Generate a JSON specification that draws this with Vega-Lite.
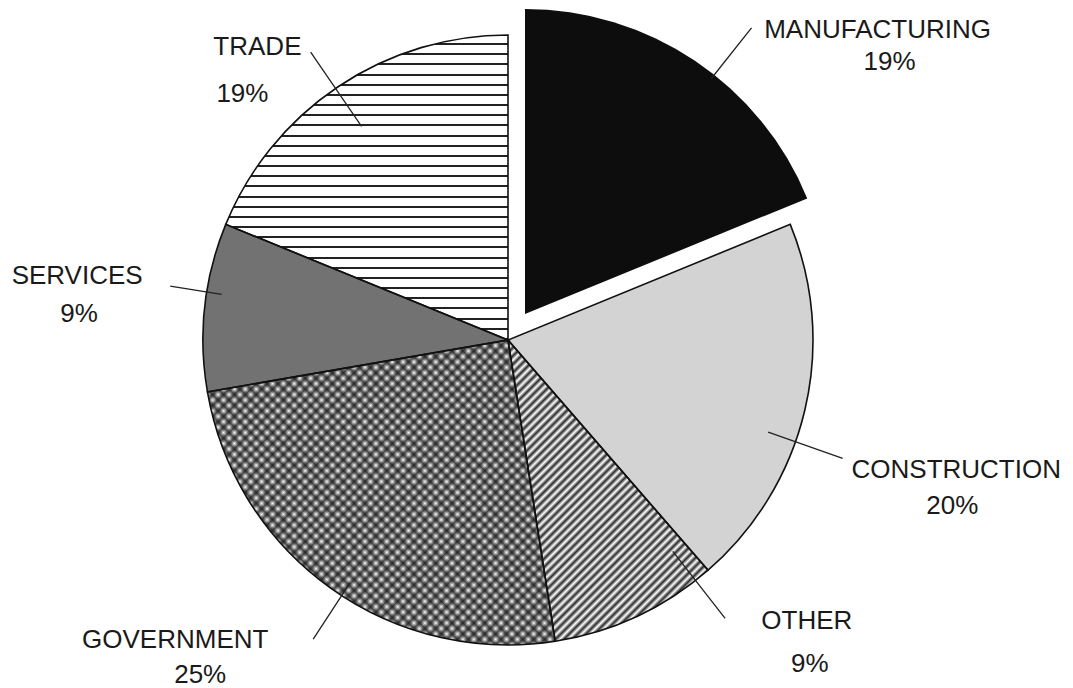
{
"$schema": "https://vega.github.io/schema/vega-lite/v6.json",
"width": 1016, "height": 680,
"autosize": {"type": "none"},
"padding": {"left": 0, "top": 0, "right": 57, "bottom": 8},
"background": "white",
"view": {"stroke": null},
"data": {"values": [
{"sector": "MANUFACTURING", "share": 0.19, "seq": 1},
{"sector": "CONSTRUCTION", "share": 0.20, "seq": 2},
{"sector": "OTHER", "share": 0.09, "seq": 3},
{"sector": "GOVERNMENT", "share": 0.25, "seq": 4},
{"sector": "SERVICES", "share": 0.09, "seq": 5},
{"sector": "TRADE", "share": 0.19, "seq": 6}
]},
"encoding": {
"theta": {"field": "share", "type": "quantitative", "stack": true},
"order": {"field": "seq", "type": "quantitative"}
},
"layer": [
{"mark": {"type": "arc", "radius": 305, "strokeWidth": 0},
 "encoding": {"fill": {"field": "sector", "type": "nominal", "legend": null,
  "scale": {"domain": ["MANUFACTURING","CONSTRUCTION","OTHER","GOVERNMENT","SERVICES","TRADE"],
            "range": ["transparent","#d3d3d3","#ffffff","#ffffff","#727272","#ffffff"]}}}},
{"mark": {"type": "arc", "radius": 305, "strokeWidth": 0},
 "encoding": {"fill": {"condition": {"test": "datum.sector === 'TRADE'", "value": {"gradient": "linear", "x1": 0, "y1": 0, "x2": 0, "y2": 1, "stops": [
{"offset":0,"color":"#fff"},{"offset":0.0267,"color":"#fff"},{"offset":0.0267,"color":"#222"},{"offset":0.0333,"color":"#222"},
{"offset":0.0333,"color":"#fff"},{"offset":0.06,"color":"#fff"},{"offset":0.06,"color":"#222"},{"offset":0.0667,"color":"#222"},
{"offset":0.0667,"color":"#fff"},{"offset":0.0933,"color":"#fff"},{"offset":0.0933,"color":"#222"},{"offset":0.1,"color":"#222"},
{"offset":0.1,"color":"#fff"},{"offset":0.1267,"color":"#fff"},{"offset":0.1267,"color":"#222"},{"offset":0.1333,"color":"#222"},
{"offset":0.1333,"color":"#fff"},{"offset":0.16,"color":"#fff"},{"offset":0.16,"color":"#222"},{"offset":0.1667,"color":"#222"},
{"offset":0.1667,"color":"#fff"},{"offset":0.1933,"color":"#fff"},{"offset":0.1933,"color":"#222"},{"offset":0.2,"color":"#222"},
{"offset":0.2,"color":"#fff"},{"offset":0.2267,"color":"#fff"},{"offset":0.2267,"color":"#222"},{"offset":0.2333,"color":"#222"},
{"offset":0.2333,"color":"#fff"},{"offset":0.26,"color":"#fff"},{"offset":0.26,"color":"#222"},{"offset":0.2667,"color":"#222"},
{"offset":0.2667,"color":"#fff"},{"offset":0.2933,"color":"#fff"},{"offset":0.2933,"color":"#222"},{"offset":0.3,"color":"#222"},
{"offset":0.3,"color":"#fff"},{"offset":0.3267,"color":"#fff"},{"offset":0.3267,"color":"#222"},{"offset":0.3333,"color":"#222"},
{"offset":0.3333,"color":"#fff"},{"offset":0.36,"color":"#fff"},{"offset":0.36,"color":"#222"},{"offset":0.3667,"color":"#222"},
{"offset":0.3667,"color":"#fff"},{"offset":0.3933,"color":"#fff"},{"offset":0.3933,"color":"#222"},{"offset":0.4,"color":"#222"},
{"offset":0.4,"color":"#fff"},{"offset":0.4267,"color":"#fff"},{"offset":0.4267,"color":"#222"},{"offset":0.4333,"color":"#222"},
{"offset":0.4333,"color":"#fff"},{"offset":0.46,"color":"#fff"},{"offset":0.46,"color":"#222"},{"offset":0.4667,"color":"#222"},
{"offset":0.4667,"color":"#fff"},{"offset":0.4933,"color":"#fff"},{"offset":0.4933,"color":"#222"},{"offset":0.5,"color":"#222"},
{"offset":0.5,"color":"#fff"},{"offset":0.5267,"color":"#fff"},{"offset":0.5267,"color":"#222"},{"offset":0.5333,"color":"#222"},
{"offset":0.5333,"color":"#fff"},{"offset":0.56,"color":"#fff"},{"offset":0.56,"color":"#222"},{"offset":0.5667,"color":"#222"},
{"offset":0.5667,"color":"#fff"},{"offset":0.5933,"color":"#fff"},{"offset":0.5933,"color":"#222"},{"offset":0.6,"color":"#222"},
{"offset":0.6,"color":"#fff"},{"offset":0.6267,"color":"#fff"},{"offset":0.6267,"color":"#222"},{"offset":0.6333,"color":"#222"},
{"offset":0.6333,"color":"#fff"},{"offset":0.66,"color":"#fff"},{"offset":0.66,"color":"#222"},{"offset":0.6667,"color":"#222"},
{"offset":0.6667,"color":"#fff"},{"offset":0.6933,"color":"#fff"},{"offset":0.6933,"color":"#222"},{"offset":0.7,"color":"#222"},
{"offset":0.7,"color":"#fff"},{"offset":0.7267,"color":"#fff"},{"offset":0.7267,"color":"#222"},{"offset":0.7333,"color":"#222"},
{"offset":0.7333,"color":"#fff"},{"offset":0.76,"color":"#fff"},{"offset":0.76,"color":"#222"},{"offset":0.7667,"color":"#222"},
{"offset":0.7667,"color":"#fff"},{"offset":0.7933,"color":"#fff"},{"offset":0.7933,"color":"#222"},{"offset":0.8,"color":"#222"},
{"offset":0.8,"color":"#fff"},{"offset":0.8267,"color":"#fff"},{"offset":0.8267,"color":"#222"},{"offset":0.8333,"color":"#222"},
{"offset":0.8333,"color":"#fff"},{"offset":0.86,"color":"#fff"},{"offset":0.86,"color":"#222"},{"offset":0.8667,"color":"#222"},
{"offset":0.8667,"color":"#fff"},{"offset":0.8933,"color":"#fff"},{"offset":0.8933,"color":"#222"},{"offset":0.9,"color":"#222"},
{"offset":0.9,"color":"#fff"},{"offset":0.9267,"color":"#fff"},{"offset":0.9267,"color":"#222"},{"offset":0.9333,"color":"#222"},
{"offset":0.9333,"color":"#fff"},{"offset":0.96,"color":"#fff"},{"offset":0.96,"color":"#222"},{"offset":0.9667,"color":"#222"},
{"offset":0.9667,"color":"#fff"},{"offset":0.9933,"color":"#fff"},{"offset":0.9933,"color":"#222"},{"offset":1,"color":"#222"}
]}}, "value": "transparent"}}},
{"mark": {"type": "arc", "radius": 305, "strokeWidth": 0},
 "encoding": {"fill": {"condition": {"test": "datum.sector === 'OTHER'", "value": {"gradient": "linear", "x1": 0, "y1": 0, "x2": 0.7666, "y2": 1.1549, "stops": [
{"offset":0,"color":"#fff"},{"offset":0.0083,"color":"#2b2b2b"},{"offset":0.0167,"color":"#fff"},{"offset":0.025,"color":"#2b2b2b"},{"offset":0.0333,"color":"#fff"},{"offset":0.0417,"color":"#2b2b2b"},{"offset":0.05,"color":"#fff"},{"offset":0.0583,"color":"#2b2b2b"},{"offset":0.0667,"color":"#fff"},{"offset":0.075,"color":"#2b2b2b"},
{"offset":0.0833,"color":"#fff"},{"offset":0.0917,"color":"#2b2b2b"},{"offset":0.1,"color":"#fff"},{"offset":0.1083,"color":"#2b2b2b"},{"offset":0.1167,"color":"#fff"},{"offset":0.125,"color":"#2b2b2b"},{"offset":0.1333,"color":"#fff"},{"offset":0.1417,"color":"#2b2b2b"},{"offset":0.15,"color":"#fff"},{"offset":0.1583,"color":"#2b2b2b"},
{"offset":0.1667,"color":"#fff"},{"offset":0.175,"color":"#2b2b2b"},{"offset":0.1833,"color":"#fff"},{"offset":0.1917,"color":"#2b2b2b"},{"offset":0.2,"color":"#fff"},{"offset":0.2083,"color":"#2b2b2b"},{"offset":0.2167,"color":"#fff"},{"offset":0.225,"color":"#2b2b2b"},{"offset":0.2333,"color":"#fff"},{"offset":0.2417,"color":"#2b2b2b"},
{"offset":0.25,"color":"#fff"},{"offset":0.2583,"color":"#2b2b2b"},{"offset":0.2667,"color":"#fff"},{"offset":0.275,"color":"#2b2b2b"},{"offset":0.2833,"color":"#fff"},{"offset":0.2917,"color":"#2b2b2b"},{"offset":0.3,"color":"#fff"},{"offset":0.3083,"color":"#2b2b2b"},{"offset":0.3167,"color":"#fff"},{"offset":0.325,"color":"#2b2b2b"},
{"offset":0.3333,"color":"#fff"},{"offset":0.3417,"color":"#2b2b2b"},{"offset":0.35,"color":"#fff"},{"offset":0.3583,"color":"#2b2b2b"},{"offset":0.3667,"color":"#fff"},{"offset":0.375,"color":"#2b2b2b"},{"offset":0.3833,"color":"#fff"},{"offset":0.3917,"color":"#2b2b2b"},{"offset":0.4,"color":"#fff"},{"offset":0.4083,"color":"#2b2b2b"},
{"offset":0.4167,"color":"#fff"},{"offset":0.425,"color":"#2b2b2b"},{"offset":0.4333,"color":"#fff"},{"offset":0.4417,"color":"#2b2b2b"},{"offset":0.45,"color":"#fff"},{"offset":0.4583,"color":"#2b2b2b"},{"offset":0.4667,"color":"#fff"},{"offset":0.475,"color":"#2b2b2b"},{"offset":0.4833,"color":"#fff"},{"offset":0.4917,"color":"#2b2b2b"},
{"offset":0.5,"color":"#fff"},{"offset":0.5083,"color":"#2b2b2b"},{"offset":0.5167,"color":"#fff"},{"offset":0.525,"color":"#2b2b2b"},{"offset":0.5333,"color":"#fff"},{"offset":0.5417,"color":"#2b2b2b"},{"offset":0.55,"color":"#fff"},{"offset":0.5583,"color":"#2b2b2b"},{"offset":0.5667,"color":"#fff"},{"offset":0.575,"color":"#2b2b2b"},
{"offset":0.5833,"color":"#fff"},{"offset":0.5917,"color":"#2b2b2b"},{"offset":0.6,"color":"#fff"},{"offset":0.6083,"color":"#2b2b2b"},{"offset":0.6167,"color":"#fff"},{"offset":0.625,"color":"#2b2b2b"},{"offset":0.6333,"color":"#fff"},{"offset":0.6417,"color":"#2b2b2b"},{"offset":0.65,"color":"#fff"},{"offset":0.6583,"color":"#2b2b2b"},
{"offset":0.6667,"color":"#fff"},{"offset":0.675,"color":"#2b2b2b"},{"offset":0.6833,"color":"#fff"},{"offset":0.6917,"color":"#2b2b2b"},{"offset":0.7,"color":"#fff"},{"offset":0.7083,"color":"#2b2b2b"},{"offset":0.7167,"color":"#fff"},{"offset":0.725,"color":"#2b2b2b"},{"offset":0.7333,"color":"#fff"},{"offset":0.7417,"color":"#2b2b2b"},
{"offset":0.75,"color":"#fff"},{"offset":0.7583,"color":"#2b2b2b"},{"offset":0.7667,"color":"#fff"},{"offset":0.775,"color":"#2b2b2b"},{"offset":0.7833,"color":"#fff"},{"offset":0.7917,"color":"#2b2b2b"},{"offset":0.8,"color":"#fff"},{"offset":0.8083,"color":"#2b2b2b"},{"offset":0.8167,"color":"#fff"},{"offset":0.825,"color":"#2b2b2b"},
{"offset":0.8333,"color":"#fff"},{"offset":0.8417,"color":"#2b2b2b"},{"offset":0.85,"color":"#fff"},{"offset":0.8583,"color":"#2b2b2b"},{"offset":0.8667,"color":"#fff"},{"offset":0.875,"color":"#2b2b2b"},{"offset":0.8833,"color":"#fff"},{"offset":0.8917,"color":"#2b2b2b"},{"offset":0.9,"color":"#fff"},{"offset":0.9083,"color":"#2b2b2b"},
{"offset":0.9167,"color":"#fff"},{"offset":0.925,"color":"#2b2b2b"},{"offset":0.9333,"color":"#fff"},{"offset":0.9417,"color":"#2b2b2b"},{"offset":0.95,"color":"#fff"},{"offset":0.9583,"color":"#2b2b2b"},{"offset":0.9667,"color":"#fff"},{"offset":0.975,"color":"#2b2b2b"},{"offset":0.9833,"color":"#fff"},{"offset":0.9917,"color":"#2b2b2b"},
{"offset":1,"color":"#fff"}
]}}, "value": "transparent"}}},
{"mark": {"type": "arc", "radius": 305, "strokeWidth": 0},
 "encoding": {"fill": {"condition": {"test": "datum.sector === 'GOVERNMENT'", "value": {"gradient": "linear", "x1": 0, "y1": 0, "x2": 1.0609, "y2": 0.9306, "stops": [
{"offset":0,"color":"rgba(20,20,20,0)"},{"offset":0.0083,"color":"rgba(20,20,20,0.75)"},{"offset":0.0167,"color":"rgba(20,20,20,0)"},{"offset":0.025,"color":"rgba(20,20,20,0.75)"},{"offset":0.0333,"color":"rgba(20,20,20,0)"},{"offset":0.0417,"color":"rgba(20,20,20,0.75)"},{"offset":0.05,"color":"rgba(20,20,20,0)"},{"offset":0.0583,"color":"rgba(20,20,20,0.75)"},{"offset":0.0667,"color":"rgba(20,20,20,0)"},{"offset":0.075,"color":"rgba(20,20,20,0.75)"},
{"offset":0.0833,"color":"rgba(20,20,20,0)"},{"offset":0.0917,"color":"rgba(20,20,20,0.75)"},{"offset":0.1,"color":"rgba(20,20,20,0)"},{"offset":0.1083,"color":"rgba(20,20,20,0.75)"},{"offset":0.1167,"color":"rgba(20,20,20,0)"},{"offset":0.125,"color":"rgba(20,20,20,0.75)"},{"offset":0.1333,"color":"rgba(20,20,20,0)"},{"offset":0.1417,"color":"rgba(20,20,20,0.75)"},{"offset":0.15,"color":"rgba(20,20,20,0)"},{"offset":0.1583,"color":"rgba(20,20,20,0.75)"},
{"offset":0.1667,"color":"rgba(20,20,20,0)"},{"offset":0.175,"color":"rgba(20,20,20,0.75)"},{"offset":0.1833,"color":"rgba(20,20,20,0)"},{"offset":0.1917,"color":"rgba(20,20,20,0.75)"},{"offset":0.2,"color":"rgba(20,20,20,0)"},{"offset":0.2083,"color":"rgba(20,20,20,0.75)"},{"offset":0.2167,"color":"rgba(20,20,20,0)"},{"offset":0.225,"color":"rgba(20,20,20,0.75)"},{"offset":0.2333,"color":"rgba(20,20,20,0)"},{"offset":0.2417,"color":"rgba(20,20,20,0.75)"},
{"offset":0.25,"color":"rgba(20,20,20,0)"},{"offset":0.2583,"color":"rgba(20,20,20,0.75)"},{"offset":0.2667,"color":"rgba(20,20,20,0)"},{"offset":0.275,"color":"rgba(20,20,20,0.75)"},{"offset":0.2833,"color":"rgba(20,20,20,0)"},{"offset":0.2917,"color":"rgba(20,20,20,0.75)"},{"offset":0.3,"color":"rgba(20,20,20,0)"},{"offset":0.3083,"color":"rgba(20,20,20,0.75)"},{"offset":0.3167,"color":"rgba(20,20,20,0)"},{"offset":0.325,"color":"rgba(20,20,20,0.75)"},
{"offset":0.3333,"color":"rgba(20,20,20,0)"},{"offset":0.3417,"color":"rgba(20,20,20,0.75)"},{"offset":0.35,"color":"rgba(20,20,20,0)"},{"offset":0.3583,"color":"rgba(20,20,20,0.75)"},{"offset":0.3667,"color":"rgba(20,20,20,0)"},{"offset":0.375,"color":"rgba(20,20,20,0.75)"},{"offset":0.3833,"color":"rgba(20,20,20,0)"},{"offset":0.3917,"color":"rgba(20,20,20,0.75)"},{"offset":0.4,"color":"rgba(20,20,20,0)"},{"offset":0.4083,"color":"rgba(20,20,20,0.75)"},
{"offset":0.4167,"color":"rgba(20,20,20,0)"},{"offset":0.425,"color":"rgba(20,20,20,0.75)"},{"offset":0.4333,"color":"rgba(20,20,20,0)"},{"offset":0.4417,"color":"rgba(20,20,20,0.75)"},{"offset":0.45,"color":"rgba(20,20,20,0)"},{"offset":0.4583,"color":"rgba(20,20,20,0.75)"},{"offset":0.4667,"color":"rgba(20,20,20,0)"},{"offset":0.475,"color":"rgba(20,20,20,0.75)"},{"offset":0.4833,"color":"rgba(20,20,20,0)"},{"offset":0.4917,"color":"rgba(20,20,20,0.75)"},
{"offset":0.5,"color":"rgba(20,20,20,0)"},{"offset":0.5083,"color":"rgba(20,20,20,0.75)"},{"offset":0.5167,"color":"rgba(20,20,20,0)"},{"offset":0.525,"color":"rgba(20,20,20,0.75)"},{"offset":0.5333,"color":"rgba(20,20,20,0)"},{"offset":0.5417,"color":"rgba(20,20,20,0.75)"},{"offset":0.55,"color":"rgba(20,20,20,0)"},{"offset":0.5583,"color":"rgba(20,20,20,0.75)"},{"offset":0.5667,"color":"rgba(20,20,20,0)"},{"offset":0.575,"color":"rgba(20,20,20,0.75)"},
{"offset":0.5833,"color":"rgba(20,20,20,0)"},{"offset":0.5917,"color":"rgba(20,20,20,0.75)"},{"offset":0.6,"color":"rgba(20,20,20,0)"},{"offset":0.6083,"color":"rgba(20,20,20,0.75)"},{"offset":0.6167,"color":"rgba(20,20,20,0)"},{"offset":0.625,"color":"rgba(20,20,20,0.75)"},{"offset":0.6333,"color":"rgba(20,20,20,0)"},{"offset":0.6417,"color":"rgba(20,20,20,0.75)"},{"offset":0.65,"color":"rgba(20,20,20,0)"},{"offset":0.6583,"color":"rgba(20,20,20,0.75)"},
{"offset":0.6667,"color":"rgba(20,20,20,0)"},{"offset":0.675,"color":"rgba(20,20,20,0.75)"},{"offset":0.6833,"color":"rgba(20,20,20,0)"},{"offset":0.6917,"color":"rgba(20,20,20,0.75)"},{"offset":0.7,"color":"rgba(20,20,20,0)"},{"offset":0.7083,"color":"rgba(20,20,20,0.75)"},{"offset":0.7167,"color":"rgba(20,20,20,0)"},{"offset":0.725,"color":"rgba(20,20,20,0.75)"},{"offset":0.7333,"color":"rgba(20,20,20,0)"},{"offset":0.7417,"color":"rgba(20,20,20,0.75)"},
{"offset":0.75,"color":"rgba(20,20,20,0)"},{"offset":0.7583,"color":"rgba(20,20,20,0.75)"},{"offset":0.7667,"color":"rgba(20,20,20,0)"},{"offset":0.775,"color":"rgba(20,20,20,0.75)"},{"offset":0.7833,"color":"rgba(20,20,20,0)"},{"offset":0.7917,"color":"rgba(20,20,20,0.75)"},{"offset":0.8,"color":"rgba(20,20,20,0)"},{"offset":0.8083,"color":"rgba(20,20,20,0.75)"},{"offset":0.8167,"color":"rgba(20,20,20,0)"},{"offset":0.825,"color":"rgba(20,20,20,0.75)"},
{"offset":0.8333,"color":"rgba(20,20,20,0)"},{"offset":0.8417,"color":"rgba(20,20,20,0.75)"},{"offset":0.85,"color":"rgba(20,20,20,0)"},{"offset":0.8583,"color":"rgba(20,20,20,0.75)"},{"offset":0.8667,"color":"rgba(20,20,20,0)"},{"offset":0.875,"color":"rgba(20,20,20,0.75)"},{"offset":0.8833,"color":"rgba(20,20,20,0)"},{"offset":0.8917,"color":"rgba(20,20,20,0.75)"},{"offset":0.9,"color":"rgba(20,20,20,0)"},{"offset":0.9083,"color":"rgba(20,20,20,0.75)"},
{"offset":0.9167,"color":"rgba(20,20,20,0)"},{"offset":0.925,"color":"rgba(20,20,20,0.75)"},{"offset":0.9333,"color":"rgba(20,20,20,0)"},{"offset":0.9417,"color":"rgba(20,20,20,0.75)"},{"offset":0.95,"color":"rgba(20,20,20,0)"},{"offset":0.9583,"color":"rgba(20,20,20,0.75)"},{"offset":0.9667,"color":"rgba(20,20,20,0)"},{"offset":0.975,"color":"rgba(20,20,20,0.75)"},{"offset":0.9833,"color":"rgba(20,20,20,0)"},{"offset":0.9917,"color":"rgba(20,20,20,0.75)"},
{"offset":1,"color":"rgba(20,20,20,0)"}
]}}, "value": "transparent"}}},
{"mark": {"type": "arc", "radius": 305, "strokeWidth": 0},
 "encoding": {"fill": {"condition": {"test": "datum.sector === 'GOVERNMENT'", "value": {"gradient": "linear", "x1": 0, "y1": 1, "x2": 1.0609, "y2": 0.0694, "stops": [
{"offset":0,"color":"rgba(20,20,20,0)"},{"offset":0.0083,"color":"rgba(20,20,20,0.75)"},{"offset":0.0167,"color":"rgba(20,20,20,0)"},{"offset":0.025,"color":"rgba(20,20,20,0.75)"},{"offset":0.0333,"color":"rgba(20,20,20,0)"},{"offset":0.0417,"color":"rgba(20,20,20,0.75)"},{"offset":0.05,"color":"rgba(20,20,20,0)"},{"offset":0.0583,"color":"rgba(20,20,20,0.75)"},{"offset":0.0667,"color":"rgba(20,20,20,0)"},{"offset":0.075,"color":"rgba(20,20,20,0.75)"},
{"offset":0.0833,"color":"rgba(20,20,20,0)"},{"offset":0.0917,"color":"rgba(20,20,20,0.75)"},{"offset":0.1,"color":"rgba(20,20,20,0)"},{"offset":0.1083,"color":"rgba(20,20,20,0.75)"},{"offset":0.1167,"color":"rgba(20,20,20,0)"},{"offset":0.125,"color":"rgba(20,20,20,0.75)"},{"offset":0.1333,"color":"rgba(20,20,20,0)"},{"offset":0.1417,"color":"rgba(20,20,20,0.75)"},{"offset":0.15,"color":"rgba(20,20,20,0)"},{"offset":0.1583,"color":"rgba(20,20,20,0.75)"},
{"offset":0.1667,"color":"rgba(20,20,20,0)"},{"offset":0.175,"color":"rgba(20,20,20,0.75)"},{"offset":0.1833,"color":"rgba(20,20,20,0)"},{"offset":0.1917,"color":"rgba(20,20,20,0.75)"},{"offset":0.2,"color":"rgba(20,20,20,0)"},{"offset":0.2083,"color":"rgba(20,20,20,0.75)"},{"offset":0.2167,"color":"rgba(20,20,20,0)"},{"offset":0.225,"color":"rgba(20,20,20,0.75)"},{"offset":0.2333,"color":"rgba(20,20,20,0)"},{"offset":0.2417,"color":"rgba(20,20,20,0.75)"},
{"offset":0.25,"color":"rgba(20,20,20,0)"},{"offset":0.2583,"color":"rgba(20,20,20,0.75)"},{"offset":0.2667,"color":"rgba(20,20,20,0)"},{"offset":0.275,"color":"rgba(20,20,20,0.75)"},{"offset":0.2833,"color":"rgba(20,20,20,0)"},{"offset":0.2917,"color":"rgba(20,20,20,0.75)"},{"offset":0.3,"color":"rgba(20,20,20,0)"},{"offset":0.3083,"color":"rgba(20,20,20,0.75)"},{"offset":0.3167,"color":"rgba(20,20,20,0)"},{"offset":0.325,"color":"rgba(20,20,20,0.75)"},
{"offset":0.3333,"color":"rgba(20,20,20,0)"},{"offset":0.3417,"color":"rgba(20,20,20,0.75)"},{"offset":0.35,"color":"rgba(20,20,20,0)"},{"offset":0.3583,"color":"rgba(20,20,20,0.75)"},{"offset":0.3667,"color":"rgba(20,20,20,0)"},{"offset":0.375,"color":"rgba(20,20,20,0.75)"},{"offset":0.3833,"color":"rgba(20,20,20,0)"},{"offset":0.3917,"color":"rgba(20,20,20,0.75)"},{"offset":0.4,"color":"rgba(20,20,20,0)"},{"offset":0.4083,"color":"rgba(20,20,20,0.75)"},
{"offset":0.4167,"color":"rgba(20,20,20,0)"},{"offset":0.425,"color":"rgba(20,20,20,0.75)"},{"offset":0.4333,"color":"rgba(20,20,20,0)"},{"offset":0.4417,"color":"rgba(20,20,20,0.75)"},{"offset":0.45,"color":"rgba(20,20,20,0)"},{"offset":0.4583,"color":"rgba(20,20,20,0.75)"},{"offset":0.4667,"color":"rgba(20,20,20,0)"},{"offset":0.475,"color":"rgba(20,20,20,0.75)"},{"offset":0.4833,"color":"rgba(20,20,20,0)"},{"offset":0.4917,"color":"rgba(20,20,20,0.75)"},
{"offset":0.5,"color":"rgba(20,20,20,0)"},{"offset":0.5083,"color":"rgba(20,20,20,0.75)"},{"offset":0.5167,"color":"rgba(20,20,20,0)"},{"offset":0.525,"color":"rgba(20,20,20,0.75)"},{"offset":0.5333,"color":"rgba(20,20,20,0)"},{"offset":0.5417,"color":"rgba(20,20,20,0.75)"},{"offset":0.55,"color":"rgba(20,20,20,0)"},{"offset":0.5583,"color":"rgba(20,20,20,0.75)"},{"offset":0.5667,"color":"rgba(20,20,20,0)"},{"offset":0.575,"color":"rgba(20,20,20,0.75)"},
{"offset":0.5833,"color":"rgba(20,20,20,0)"},{"offset":0.5917,"color":"rgba(20,20,20,0.75)"},{"offset":0.6,"color":"rgba(20,20,20,0)"},{"offset":0.6083,"color":"rgba(20,20,20,0.75)"},{"offset":0.6167,"color":"rgba(20,20,20,0)"},{"offset":0.625,"color":"rgba(20,20,20,0.75)"},{"offset":0.6333,"color":"rgba(20,20,20,0)"},{"offset":0.6417,"color":"rgba(20,20,20,0.75)"},{"offset":0.65,"color":"rgba(20,20,20,0)"},{"offset":0.6583,"color":"rgba(20,20,20,0.75)"},
{"offset":0.6667,"color":"rgba(20,20,20,0)"},{"offset":0.675,"color":"rgba(20,20,20,0.75)"},{"offset":0.6833,"color":"rgba(20,20,20,0)"},{"offset":0.6917,"color":"rgba(20,20,20,0.75)"},{"offset":0.7,"color":"rgba(20,20,20,0)"},{"offset":0.7083,"color":"rgba(20,20,20,0.75)"},{"offset":0.7167,"color":"rgba(20,20,20,0)"},{"offset":0.725,"color":"rgba(20,20,20,0.75)"},{"offset":0.7333,"color":"rgba(20,20,20,0)"},{"offset":0.7417,"color":"rgba(20,20,20,0.75)"},
{"offset":0.75,"color":"rgba(20,20,20,0)"},{"offset":0.7583,"color":"rgba(20,20,20,0.75)"},{"offset":0.7667,"color":"rgba(20,20,20,0)"},{"offset":0.775,"color":"rgba(20,20,20,0.75)"},{"offset":0.7833,"color":"rgba(20,20,20,0)"},{"offset":0.7917,"color":"rgba(20,20,20,0.75)"},{"offset":0.8,"color":"rgba(20,20,20,0)"},{"offset":0.8083,"color":"rgba(20,20,20,0.75)"},{"offset":0.8167,"color":"rgba(20,20,20,0)"},{"offset":0.825,"color":"rgba(20,20,20,0.75)"},
{"offset":0.8333,"color":"rgba(20,20,20,0)"},{"offset":0.8417,"color":"rgba(20,20,20,0.75)"},{"offset":0.85,"color":"rgba(20,20,20,0)"},{"offset":0.8583,"color":"rgba(20,20,20,0.75)"},{"offset":0.8667,"color":"rgba(20,20,20,0)"},{"offset":0.875,"color":"rgba(20,20,20,0.75)"},{"offset":0.8833,"color":"rgba(20,20,20,0)"},{"offset":0.8917,"color":"rgba(20,20,20,0.75)"},{"offset":0.9,"color":"rgba(20,20,20,0)"},{"offset":0.9083,"color":"rgba(20,20,20,0.75)"},
{"offset":0.9167,"color":"rgba(20,20,20,0)"},{"offset":0.925,"color":"rgba(20,20,20,0.75)"},{"offset":0.9333,"color":"rgba(20,20,20,0)"},{"offset":0.9417,"color":"rgba(20,20,20,0.75)"},{"offset":0.95,"color":"rgba(20,20,20,0)"},{"offset":0.9583,"color":"rgba(20,20,20,0.75)"},{"offset":0.9667,"color":"rgba(20,20,20,0)"},{"offset":0.975,"color":"rgba(20,20,20,0.75)"},{"offset":0.9833,"color":"rgba(20,20,20,0)"},{"offset":0.9917,"color":"rgba(20,20,20,0.75)"},
{"offset":1,"color":"rgba(20,20,20,0)"}
]}}, "value": "transparent"}}},
{"mark": {"type": "arc", "radius": 305, "fill": "transparent", "strokeWidth": 1.6, "strokeJoin": "miter"},
 "encoding": {"stroke": {"condition": {"test": "datum.sector === 'MANUFACTURING'", "value": "transparent"}, "value": "#111"}}},
{"mark": {"type": "arc", "radius": 305, "xOffset": 17, "yOffset": -26, "strokeWidth": 0},
 "encoding": {"fill": {"condition": {"test": "datum.sector === 'MANUFACTURING'", "value": "#0d0d0d"}, "value": "transparent"}}},
{"mark": {"type": "arc", "radius": 365, "radius2": 300, "padAngle": 3, "thetaOffset": 0.0785, "theta2Offset": 0.0785, "fill": "transparent", "strokeWidth": 1.3, "xOffset": 17, "yOffset": -26},
 "encoding": {"stroke": {"condition": {"test": "datum.sector === 'MANUFACTURING'", "value": "#222"}, "value": "transparent"}}},
{"mark": {"type": "arc", "radius": 355, "radius2": 276, "padAngle": 3, "thetaOffset": 0.107, "theta2Offset": 0.107, "fill": "transparent", "strokeWidth": 1.3},
 "encoding": {"stroke": {"condition": {"test": "datum.sector === 'CONSTRUCTION'", "value": "#222"}, "value": "transparent"}}},
{"mark": {"type": "arc", "radius": 353, "radius2": 268, "padAngle": 3, "thetaOffset": -0.227, "theta2Offset": -0.227, "fill": "transparent", "strokeWidth": 1.3},
 "encoding": {"stroke": {"condition": {"test": "datum.sector === 'OTHER'", "value": "#222"}, "value": "transparent"}}},
{"mark": {"type": "arc", "radius": 357, "radius2": 290, "padAngle": 3, "thetaOffset": -0.045, "theta2Offset": -0.045, "fill": "transparent", "strokeWidth": 1.3},
 "encoding": {"stroke": {"condition": {"test": "datum.sector === 'GOVERNMENT'", "value": "#222"}, "value": "transparent"}}},
{"mark": {"type": "arc", "radius": 342, "radius2": 290, "padAngle": 3, "thetaOffset": 0.049, "theta2Offset": 0.049, "fill": "transparent", "strokeWidth": 1.3},
 "encoding": {"stroke": {"condition": {"test": "datum.sector === 'SERVICES'", "value": "#222"}, "value": "transparent"}}},
{"mark": {"type": "arc", "radius": 349, "radius2": 259, "padAngle": 3, "thetaOffset": -0.01, "theta2Offset": -0.01, "fill": "transparent", "strokeWidth": 1.3},
 "encoding": {"stroke": {"condition": {"test": "datum.sector === 'TRADE'", "value": "#222"}, "value": "transparent"}}},
{"mark": {"type": "text", "radius": 360, "font": "Liberation Sans", "fontSize": 26, "fill": "#1a1a1a", "align": "center", "baseline": "alphabetic",
  "dx": {"expr": "datum.sector === 'MANUFACTURING' ? 169 : datum.sector === 'CONSTRUCTION' ? 98 : datum.sector === 'OTHER' ? 147 : datum.sector === 'GOVERNMENT' ? -123 : datum.sector === 'SERVICES' ? -73 : -50"},
  "dy": {"expr": "datum.sector === 'MANUFACTURING' ? -3 : datum.sector === 'CONSTRUCTION' ? 55 : datum.sector === 'OTHER' ? -37 : datum.sector === 'GOVERNMENT' ? 15 : datum.sector === 'SERVICES' ? -17 : 14"}},
 "encoding": {"text": {"field": "sector", "type": "nominal"}}},
{"mark": {"type": "text", "radius": 360, "font": "Liberation Sans", "fontSize": 26, "fill": "#1a1a1a", "align": "center", "baseline": "alphabetic",
  "dx": {"expr": "datum.sector === 'MANUFACTURING' ? 181 : datum.sector === 'CONSTRUCTION' ? 94 : datum.sector === 'OTHER' ? 150 : datum.sector === 'GOVERNMENT' ? -98 : datum.sector === 'SERVICES' ? -71 : -65"},
  "dy": {"expr": "datum.sector === 'MANUFACTURING' ? 29 : datum.sector === 'CONSTRUCTION' ? 91 : datum.sector === 'OTHER' ? 6 : datum.sector === 'GOVERNMENT' ? 50 : datum.sector === 'SERVICES' ? 21 : 61"}},
 "encoding": {"text": {"field": "share", "type": "quantitative", "format": ".0%"}}}
]
}
